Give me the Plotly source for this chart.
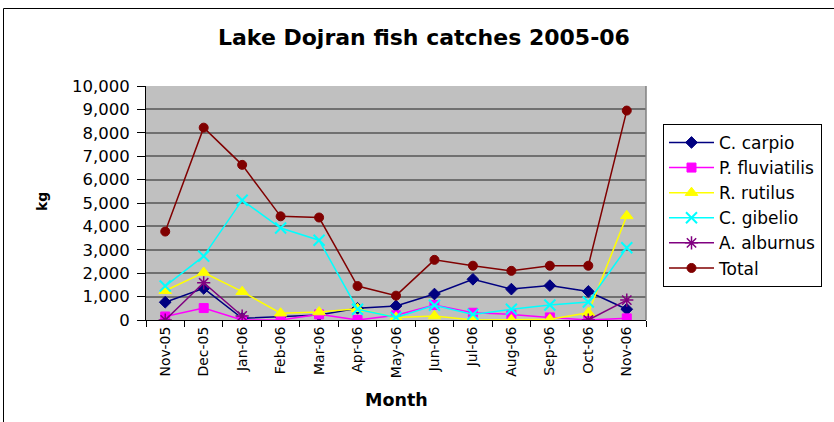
import plotly.graph_objects as go

months = ["Nov-05", "Dec-05", "Jan-06", "Feb-06", "Mar-06", "Apr-06", "May-06",
          "Jun-06", "Jul-06", "Aug-06", "Sep-06", "Oct-06", "Nov-06"]

c_carpio = [760, 1350, 70, 150, 210, 500, 600, 1110, 1740, 1320, 1470, 1220, 460]
p_fluviatilis = [150, 510, 0, 0, 240, 0, 200, 640, 310, 240, 110, 0, 70]
r_rutilus = [1250, 2030, 1210, 290, 340, 480, 110, 170, 0, 0, 30, 310, 4450]
c_gibelio = [1450, 2730, 5120, 3930, 3410, 460, 110, 630, 240, 460, 640, 770, 3090]
a_alburnus = [0, 1590, 170, None, None, None, None, None, None, None, None, 0, 850]
total = [3780, 8220, 6630, 4430, 4380, 1450, 1040, 2570, 2320, 2100, 2320, 2320, 8950]

y_ticks = [0, 1000, 2000, 3000, 4000, 5000, 6000, 7000, 8000, 9000, 10000]
y_tick_text = ["0", "1,000", "2,000", "3,000", "4,000", "5,000", "6,000",
               "7,000", "8,000", "9,000", "10,000"]

ARIAL = "Liberation Sans, Arial, sans-serif"
WIDE = "DejaVu Sans, Verdana, sans-serif"

series = [
    ("C. carpio", c_carpio, "#000080", "diamond", 9, 1),
    ("P. fluviatilis", p_fluviatilis, "#FF00FF", "square", 9, 1),
    ("R. rutilus", r_rutilus, "#FFFF00", "triangle-up", 11, 1),
    ("C. gibelio", c_gibelio, "#00FFFF", "x-thin-open", 11, 2),
    ("A. alburnus", a_alburnus, "#800080", "asterisk-open", 11, 1.5),
    ("Total", total, "#800000", "circle", 9, 1),
]

fig = go.Figure()
for name, vals, color, sym, size, lw in series:
    fig.add_trace(go.Scatter(
        x=months, y=vals, name=name, mode="lines+markers",
        line=dict(color=color, width=1.5),
        marker=dict(symbol=sym, size=size, color=color,
                    line=dict(color=color, width=lw)),
        connectgaps=False,
    ))

fig.update_layout(
    width=834, height=422,
    margin=dict(l=146, r=188, t=86, b=102),
    paper_bgcolor="white",
    plot_bgcolor="#C0C0C0",
    font=dict(family=ARIAL, size=15, color="black"),
    showlegend=True,
    legend=dict(
        x=1.034, y=0.838, xanchor="left", yanchor="top",
        bgcolor="white", bordercolor="black", borderwidth=1,
        font=dict(family=WIDE, size=17, color="black"),
        tracegroupgap=0, itemwidth=45,
    ),
    xaxis=dict(
        type="category", categoryorder="array", categoryarray=months,
        tickangle=-90, tickfont=dict(family=WIDE, size=14),
        showgrid=False, showline=True, linecolor="black", linewidth=1,
        ticks="outside", ticklen=6, tickcolor="black", tickson="boundaries",
        range=[-0.5, 12.5], zeroline=False,
    ),
    yaxis=dict(
        range=[0, 10000], tickvals=y_ticks, ticktext=y_tick_text,
        tickfont=dict(family=WIDE, size=16.5),
        showgrid=True, gridcolor="#707070", gridwidth=2,
        showline=True, linecolor="black", linewidth=1,
        ticks="outside", ticklen=8, tickcolor="black",
        ticklabelstandoff=4,
        zeroline=False,
    ),
    annotations=[
        dict(text="<b>Lake Dojran fish catches 2005-06</b>", xref="paper", yref="paper",
             x=(424 - 146) / 500, y=(320 - 37) / 234, xanchor="center", yanchor="middle",
             showarrow=False, font=dict(family=WIDE, size=22, color="black")),
        dict(text="<b>kg</b>", xref="paper", yref="paper",
             x=(42 - 146) / 500, y=(320 - 202) / 234, xanchor="center", yanchor="middle",
             textangle=-90, showarrow=False, font=dict(family=WIDE, size=14, color="black")),
        dict(text="<b>Month</b>", xref="paper", yref="paper",
             x=(396 - 146) / 500, y=(320 - 400) / 234, xanchor="center", yanchor="middle",
             showarrow=False, font=dict(family=WIDE, size=17.5, color="black")),
    ],
    shapes=[
        dict(type="rect", xref="paper", yref="paper",
             x0=(3.5 - 146) / 500, x1=(850 - 146) / 500,
             y0=(320 - 440) / 234, y1=(320 - 8.5) / 234,
             line=dict(color="black", width=1), fillcolor="rgba(0,0,0,0)", layer="below"),
        dict(type="line", xref="paper", yref="paper", x0=1, x1=1, y0=0, y1=1,
             line=dict(color="#808080", width=1.5)),
    ],
)

fig.write_html("out.html", config={"displayModeBar": False},
               post_script="document.body.style.margin='0px';")
